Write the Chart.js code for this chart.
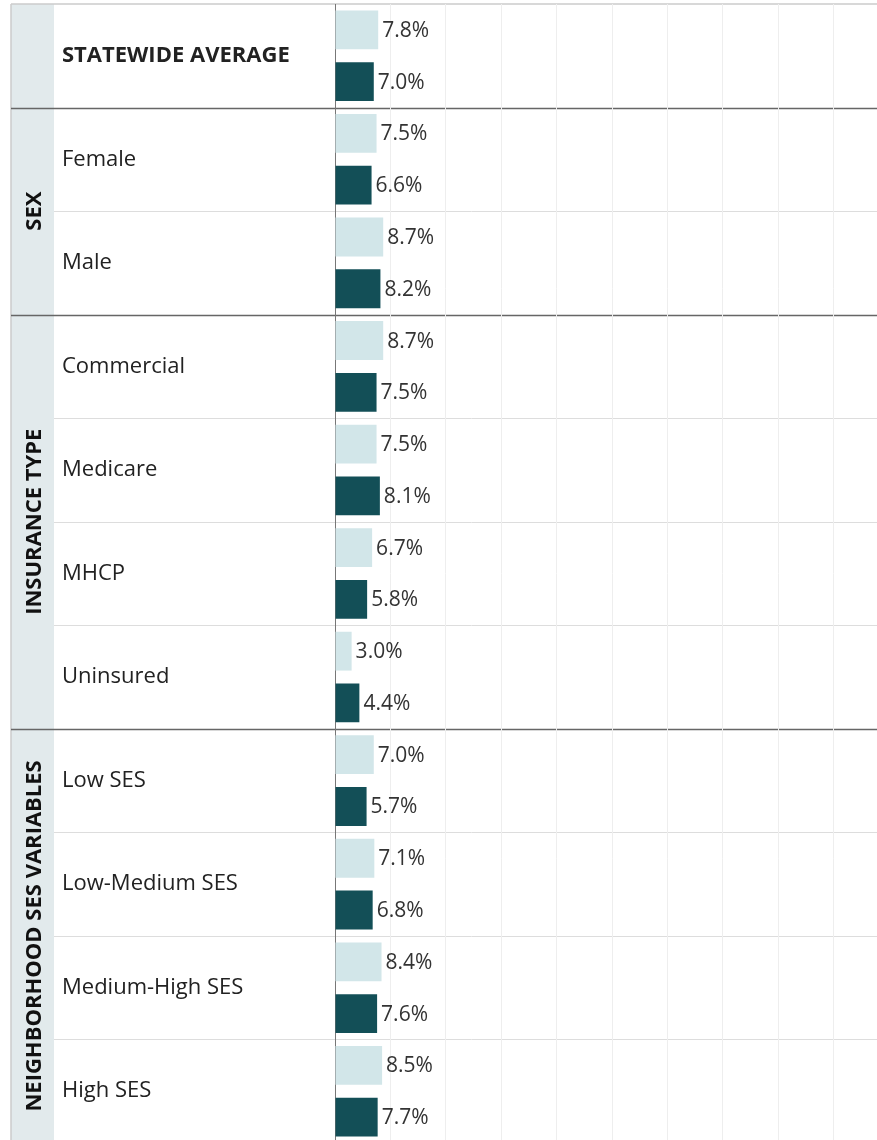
<!DOCTYPE html>
<html>
<head>
<meta charset="utf-8">
<script src="https://cdn.jsdelivr.net/npm/chart.js@4/dist/chart.umd.min.js"></script>
<style>
  html, body { margin: 0; padding: 0; overflow: hidden; background: #fff; }
  #wrap { width: 889px; height: 1144px; position: relative; }
</style>
</head>
<body>
<div id="wrap"><canvas id="myChart"></canvas></div>
<script>
// categories (one row each) and the two series
const categories = ['STATEWIDE AVERAGE', 'Female', 'Male', 'Commercial', 'Medicare', 'MHCP', 'Uninsured',
  'Low SES', 'Low-Medium SES', 'Medium-High SES', 'High SES'];
const lightValues = [7.8, 7.5, 8.7, 8.7, 7.5, 6.7, 3.0, 7.0, 7.1, 8.4, 8.5];
const darkValues = [7.0, 6.6, 8.2, 7.5, 8.1, 5.8, 4.4, 5.7, 6.8, 7.6, 7.7];
// side groups: label, first row, last row
const groupNames = ['', 'SEX', 'INSURANCE TYPE', 'NEIGHBORHOOD SES VARIABLES'];
const groupStart = [0, 1, 3, 7];
const groupEnd = [0, 2, 6, 10];

const FONT = '"Open Sans", sans-serif';

const tablePlugin = {
  id: 'table',
  beforeDraw(chart) {
    const { ctx, chartArea, scales: { y } } = chart;
    const top = chartArea.top, bottom = chartArea.bottom, right = chart.width;
    const half = (y.getPixelForValue(1) - y.getPixelForValue(0)) / 2;
    ctx.save();
    // side strip
    ctx.fillStyle = '#e2eaec';
    ctx.fillRect(11, top, 43, bottom - top);
    ctx.strokeStyle = '#cccccc';
    ctx.lineWidth = 1.5;
    ctx.beginPath();
    ctx.moveTo(11, top); ctx.lineTo(11, bottom);
    ctx.moveTo(11, top); ctx.lineTo(right, top);
    ctx.stroke();
    // row separators
    for (let i = 1; i < categories.length; i++) {
      const yy = Math.round(y.getPixelForValue(i) - half) + 0.5;
      const major = groupStart.includes(i);
      ctx.strokeStyle = major ? '#666666' : '#dddddd';
      ctx.lineWidth = major ? 1.5 : 1;
      ctx.beginPath();
      ctx.moveTo(major ? 11 : 54, yy);
      ctx.lineTo(right, yy);
      ctx.stroke();
    }
    // group titles
    ctx.fillStyle = '#111111';
    ctx.font = 'bold 22px ' + FONT;
    ctx.textAlign = 'center';
    ctx.textBaseline = 'middle';
    groupNames.forEach((name, g) => {
      if (!name) return;
      const cy = (y.getPixelForValue(groupStart[g]) + y.getPixelForValue(groupEnd[g])) / 2;
      ctx.save();
      ctx.translate(34, cy);
      ctx.rotate(-Math.PI / 2);
      ctx.fillText(name, 0, 1);
      ctx.restore();
    });
    ctx.restore();
  },
  afterDatasetsDraw(chart) {
    const { ctx } = chart;
    ctx.save();
    ctx.fillStyle = '#333333';
    ctx.font = '21px ' + FONT;
    ctx.textAlign = 'left';
    ctx.textBaseline = 'middle';
    chart.data.datasets.forEach((ds, di) => {
      chart.getDatasetMeta(di).data.forEach((bar, i) => {
        ctx.fillText(ds.data[i].toFixed(1) + '%', bar.x + 4, bar.y + 1);
      });
    });
    ctx.restore();
  }
};

new Chart(document.getElementById('myChart'), {
  type: 'bar',
  data: {
    labels: categories,
    datasets: [
      { label: 'Light', data: lightValues, backgroundColor: '#d2e6e9', categoryPercentage: 1, barPercentage: 0.75 },
      { label: 'Dark', data: darkValues, backgroundColor: '#134f57', categoryPercentage: 1, barPercentage: 0.75 }
    ]
  },
  options: {
    indexAxis: 'y',
    responsive: true,
    maintainAspectRatio: false,
    animation: false,
    layout: { padding: { left: 62, top: 4, right: 0, bottom: 1 } },
    scales: {
      x: {
        min: 0,
        max: 100,
        ticks: { display: false, stepSize: 10 },
        grid: { color: '#eeeeee', drawTicks: false },
        border: { display: false }
      },
      y: {
        afterFit: s => { s.width = 273; s.paddingTop = 0; s.paddingBottom = 0; },
        ticks: {
          crossAlign: 'far',
          color: '#222222',
          font: c => c.index === 0 ? { family: FONT, size: 22, weight: 'bold' } : { family: FONT, size: 22 }
        },
        grid: { display: false },
        border: { display: true, color: '#777777', width: 1 }
      }
    },
    plugins: {
      legend: { display: false },
      tooltip: { enabled: false }
    }
  },
  plugins: [tablePlugin]
});
</script>
</body>
</html>
